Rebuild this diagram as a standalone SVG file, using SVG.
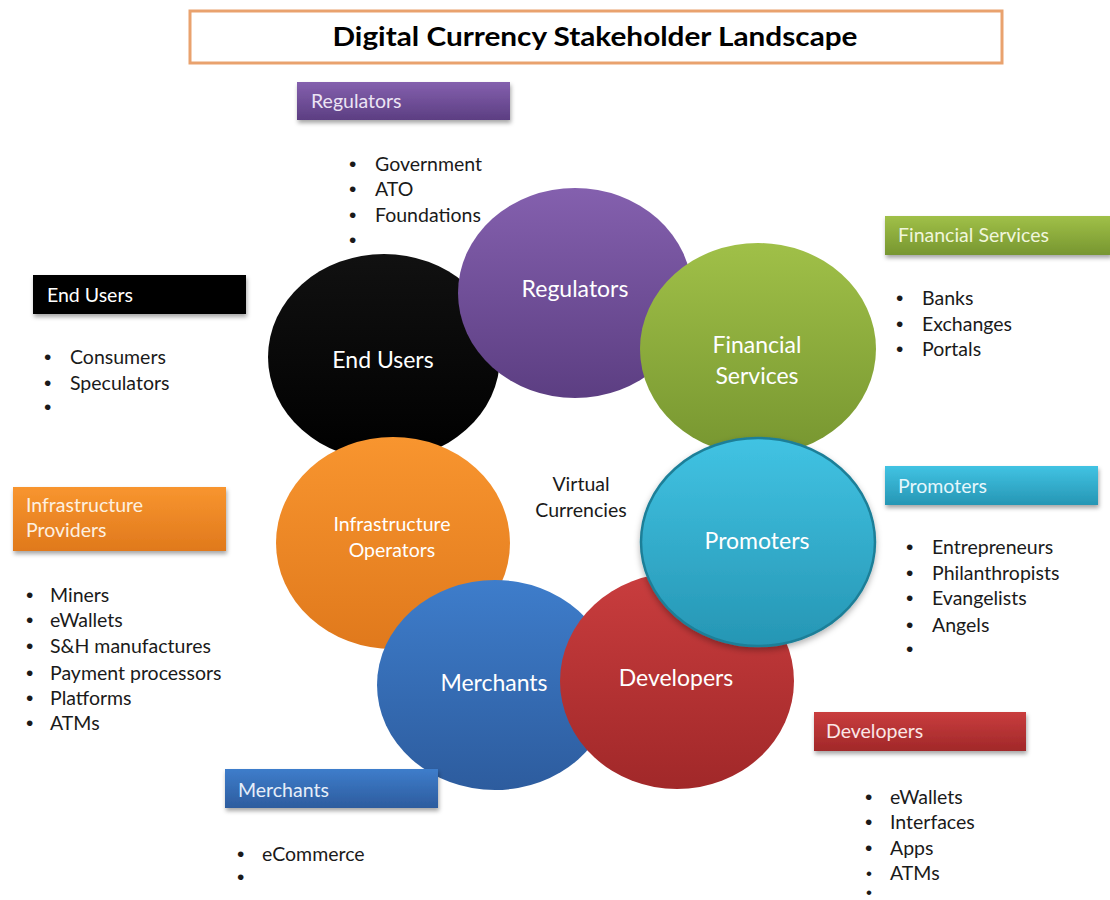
<svg xmlns="http://www.w3.org/2000/svg" width="1110" height="900" viewBox="0 0 1110 900">
<defs>
<style>
.lbl{font-family:Lato,"Open Sans","Liberation Sans",sans-serif;fill:#ffffff;text-anchor:middle}
.big{font-size:23px}
.mid{font-size:19.5px}
.vc{font-family:Lato,"Open Sans","Liberation Sans",sans-serif;font-size:19.5px;fill:#1a1a1a;text-anchor:middle}
.box{filter:url(#sh)}
.bt{font-family:Lato,"Open Sans","Liberation Sans",sans-serif;font-size:19.5px}
.li{font-family:Lato,"Open Sans","Liberation Sans",sans-serif;font-size:19.5px;fill:#1a1a1a}
.bu{font-family:"Liberation Sans",sans-serif;font-size:21px;fill:#1a1a1a}
.bs{font-family:"Liberation Sans",sans-serif;font-size:17px;fill:#1a1a1a}
</style>
<filter id="sh" x="-10%" y="-20%" width="120%" height="160%">
<feDropShadow dx="1" dy="3" stdDeviation="2" flood-color="#000" flood-opacity="0.35"/>
</filter>
<filter id="glow" x="-10%" y="-10%" width="120%" height="125%">
<feDropShadow dx="0" dy="3" stdDeviation="3" flood-color="#000" flood-opacity="0.3"/>
</filter>
<linearGradient id="gPur" x1="0" y1="0" x2="0" y2="1"><stop offset="0" stop-color="#8460AE"/><stop offset="1" stop-color="#5C3E82"/></linearGradient>
<linearGradient id="gGrn" x1="0" y1="0" x2="0" y2="1"><stop offset="0" stop-color="#A0C048"/><stop offset="1" stop-color="#779630"/></linearGradient>
<linearGradient id="gCyn" x1="0" y1="0" x2="0" y2="1"><stop offset="0" stop-color="#41C3E3"/><stop offset="1" stop-color="#2696B4"/></linearGradient>
<linearGradient id="gRed" x1="0" y1="0" x2="0" y2="1"><stop offset="0" stop-color="#C93D3E"/><stop offset="1" stop-color="#A12829"/></linearGradient>
<linearGradient id="gOrg" x1="0" y1="0" x2="0" y2="1"><stop offset="0" stop-color="#F8952F"/><stop offset="1" stop-color="#E0791C"/></linearGradient>
<linearGradient id="gBlu" x1="0" y1="0" x2="0" y2="1"><stop offset="0" stop-color="#3E7DCB"/><stop offset="1" stop-color="#2D5C9E"/></linearGradient>
<linearGradient id="gBlk" x1="0" y1="0" x2="0" y2="1"><stop offset="0" stop-color="#111111"/><stop offset="1" stop-color="#000000"/></linearGradient>
</defs>
<rect width="1110" height="900" fill="#ffffff"/>

<g id="title">
<rect x="190" y="11" width="812" height="52" fill="#ffffff" stroke="#E9A26E" stroke-width="3"/>
<text x="595" y="46" font-family="Lato,'Liberation Sans',sans-serif" font-size="27" font-weight="bold" fill="#000" text-anchor="middle" textLength="525" lengthAdjust="spacingAndGlyphs">Digital Currency Stakeholder Landscape</text>
</g>

<g id="circles">
<g id="c-endusers">
<ellipse cx="384" cy="357" rx="116" ry="103" fill="url(#gBlk)"/>
<text class="lbl big" x="383" y="368">End Users</text>
</g>
<g id="c-regulators">
<ellipse cx="575" cy="293" rx="117" ry="105" fill="url(#gPur)"/>
<text class="lbl big" x="575" y="297">Regulators</text>
</g>
<g id="c-financial">
<ellipse cx="758" cy="349" rx="118" ry="106" fill="url(#gGrn)"/>
<text class="lbl big" x="757" y="353">Financial</text>
<text class="lbl big" x="757" y="384">Services</text>
</g>
<g id="c-infra">
<ellipse cx="393" cy="543" rx="117" ry="106" fill="url(#gOrg)"/>
<text class="lbl mid" x="392" y="531">Infrastructure</text>
<text class="lbl mid" x="392" y="557">Operators</text>
</g>
<g id="c-merchants">
<ellipse cx="495" cy="685" rx="118" ry="105" fill="url(#gBlu)"/>
<text class="lbl big" x="494" y="691">Merchants</text>
</g>
<g id="c-developers">
<ellipse cx="677" cy="681" rx="117" ry="108" fill="url(#gRed)"/>
<text class="lbl big" x="676" y="686">Developers</text>
</g>
<g id="c-promoters">
<ellipse cx="758" cy="542" rx="117" ry="104" fill="url(#gCyn)" stroke="#1E7F98" stroke-width="2.5" filter="url(#glow)"/>
<text class="lbl big" x="757" y="549">Promoters</text>
</g>
<g id="virtual">
<text class="vc" x="581" y="491">Virtual</text>
<text class="vc" x="581" y="517">Currencies</text>
</g>
</g>

<g id="n-regulators">
<rect class="box" x="297" y="82" width="213" height="38" fill="url(#gPur)"/>
<text class="bt" x="311" y="108" fill="#ECE4F4">Regulators</text>
<g>
<text class="bu" x="349" y="171">•</text><text class="li" x="375" y="171">Government</text>
<text class="bu" x="349" y="196">•</text><text class="li" x="375" y="196">ATO</text>
<text class="bu" x="349" y="222">•</text><text class="li" x="375" y="222">Foundations</text>
<text class="bu" x="349" y="247">•</text>
</g>
</g>

<g id="n-endusers">
<rect class="box" x="33" y="275" width="213" height="39" fill="#000000"/>
<text class="bt" x="47" y="302" fill="#ffffff">End Users</text>
<g>
<text class="bu" x="44" y="364">•</text><text class="li" x="70" y="364">Consumers</text>
<text class="bu" x="44" y="390">•</text><text class="li" x="70" y="390">Speculators</text>
<text class="bu" x="44" y="414">•</text>
</g>
</g>

<g id="n-financial">
<rect class="box" x="885" y="216" width="226" height="39" fill="url(#gGrn)"/>
<text class="bt" x="898" y="242" fill="#F0F6DC">Financial Services</text>
<g>
<text class="bu" x="896" y="305">•</text><text class="li" x="922" y="305">Banks</text>
<text class="bu" x="896" y="331">•</text><text class="li" x="922" y="331">Exchanges</text>
<text class="bu" x="896" y="356">•</text><text class="li" x="922" y="356">Portals</text>
</g>
</g>

<g id="n-infra">
<rect class="box" x="13" y="487" width="213" height="64" fill="url(#gOrg)"/>
<text class="bt" x="26" y="512" fill="#FDF0E0">Infrastructure</text>
<text class="bt" x="26" y="537" fill="#FDF0E0">Providers</text>
<g>
<text class="bu" x="26" y="602">•</text><text class="li" x="50" y="602">Miners</text>
<text class="bu" x="26" y="627">•</text><text class="li" x="50" y="627">eWallets</text>
<text class="bu" x="26" y="653">•</text><text class="li" x="50" y="653">S&amp;H manufactures</text>
<text class="bu" x="26" y="680">•</text><text class="li" x="50" y="680">Payment processors</text>
<text class="bu" x="26" y="705">•</text><text class="li" x="50" y="705">Platforms</text>
<text class="bu" x="26" y="730">•</text><text class="li" x="50" y="730">ATMs</text>
</g>
</g>

<g id="n-promoters">
<rect class="box" x="885" y="466" width="213" height="39" fill="url(#gCyn)"/>
<text class="bt" x="898" y="493" fill="#E6F7FC">Promoters</text>
<g>
<text class="bu" x="906" y="554">•</text><text class="li" x="932" y="554">Entrepreneurs</text>
<text class="bu" x="906" y="580">•</text><text class="li" x="932" y="580">Philanthropists</text>
<text class="bu" x="906" y="605">•</text><text class="li" x="932" y="605">Evangelists</text>
<text class="bu" x="906" y="632">•</text><text class="li" x="932" y="632">Angels</text>
<text class="bu" x="906" y="656">•</text>
</g>
</g>

<g id="n-developers">
<rect class="box" x="814" y="712" width="212" height="39" fill="url(#gRed)"/>
<text class="bt" x="826" y="738" fill="#FBE6E6">Developers</text>
<g>
<text class="bu" x="865" y="804">•</text><text class="li" x="890" y="804">eWallets</text>
<text class="bu" x="865" y="829">•</text><text class="li" x="890" y="829">Interfaces</text>
<text class="bu" x="865" y="855">•</text><text class="li" x="890" y="855">Apps</text>
<text class="bs" x="866" y="879">•</text><text class="li" x="890" y="880">ATMs</text>
<text class="bs" x="866" y="898">•</text>
</g>
</g>

<g id="n-merchants">
<rect class="box" x="225" y="769" width="213" height="39" fill="url(#gBlu)"/>
<text class="bt" x="238" y="797" fill="#E6EEF9">Merchants</text>
<g>
<text class="bu" x="237" y="861">•</text><text class="li" x="262" y="861">eCommerce</text>
<text class="bu" x="237" y="884">•</text>
</g>
</g>
</svg>
